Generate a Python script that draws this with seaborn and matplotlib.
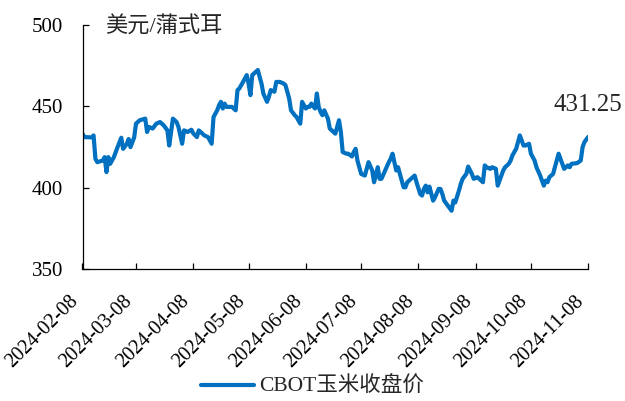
import pandas as pd
import matplotlib
matplotlib.use('Agg')
import matplotlib.pyplot as plt
import matplotlib.dates as mdates
import seaborn as sns

# CBOT玉米收盘价 (美元/蒲式耳)
dates = [
    '2024-02-08', '2024-02-09', '2024-02-13', '2024-02-14', '2024-02-15', '2024-02-16',
    '2024-02-19', '2024-02-20', '2024-02-21', '2024-02-22', '2024-02-23', '2024-02-25',
    '2024-02-27', '2024-02-29', '2024-03-01', '2024-03-03', '2024-03-04', '2024-03-05',
    '2024-03-07', '2024-03-08', '2024-03-10', '2024-03-13', '2024-03-14', '2024-03-15',
    '2024-03-17', '2024-03-19', '2024-03-21', '2024-03-23', '2024-03-25', '2024-03-26',
    '2024-03-28', '2024-03-30', '2024-03-31', '2024-04-02', '2024-04-03', '2024-04-05',
    '2024-04-07', '2024-04-08', '2024-04-10', '2024-04-11', '2024-04-13', '2024-04-14',
    '2024-04-16', '2024-04-18', '2024-04-19', '2024-04-21', '2024-04-22', '2024-04-23',
    '2024-04-24', '2024-04-25', '2024-04-26', '2024-04-29', '2024-05-01', '2024-05-02',
    '2024-05-03', '2024-05-05', '2024-05-07', '2024-05-08', '2024-05-09', '2024-05-10',
    '2024-05-12', '2024-05-13', '2024-05-15', '2024-05-16', '2024-05-18', '2024-05-19',
    '2024-05-20', '2024-05-22', '2024-05-23', '2024-05-25', '2024-05-27', '2024-05-28',
    '2024-05-30', '2024-05-31', '2024-06-02', '2024-06-03', '2024-06-04', '2024-06-05',
    '2024-06-06', '2024-06-08', '2024-06-09', '2024-06-10', '2024-06-11', '2024-06-13',
    '2024-06-14', '2024-06-15', '2024-06-16', '2024-06-17', '2024-06-18', '2024-06-20',
    '2024-06-21', '2024-06-23', '2024-06-24', '2024-06-26', '2024-06-27', '2024-06-28',
    '2024-06-30', '2024-07-01', '2024-07-03', '2024-07-04', '2024-07-05', '2024-07-06',
    '2024-07-08', '2024-07-10', '2024-07-11', '2024-07-12', '2024-07-14', '2024-07-15',
    '2024-07-17', '2024-07-18', '2024-07-19', '2024-07-21', '2024-07-23', '2024-07-24',
    '2024-07-25', '2024-07-27', '2024-07-28', '2024-07-29', '2024-07-31', '2024-08-01',
    '2024-08-02', '2024-08-04', '2024-08-06', '2024-08-07', '2024-08-09', '2024-08-10',
    '2024-08-11', '2024-08-12', '2024-08-13', '2024-08-14', '2024-08-16', '2024-08-17',
    '2024-08-19', '2024-08-20', '2024-08-21', '2024-08-22', '2024-08-24', '2024-08-26',
    '2024-08-27', '2024-08-28', '2024-08-30', '2024-08-31', '2024-09-01', '2024-09-03',
    '2024-09-04', '2024-09-06', '2024-09-07', '2024-09-09', '2024-09-10', '2024-09-12',
    '2024-09-13', '2024-09-14', '2024-09-16', '2024-09-17', '2024-09-19', '2024-09-20',
    '2024-09-21', '2024-09-23', '2024-09-24', '2024-09-26', '2024-09-27', '2024-09-28',
    '2024-09-30', '2024-10-02', '2024-10-04', '2024-10-05', '2024-10-07', '2024-10-08',
    '2024-10-10', '2024-10-11', '2024-10-13', '2024-10-15', '2024-10-16', '2024-10-17',
    '2024-10-18', '2024-10-20', '2024-10-22', '2024-10-23', '2024-10-25', '2024-10-26',
    '2024-10-28', '2024-10-29', '2024-10-30', '2024-11-02', '2024-11-04', '2024-11-05',
    '2024-11-06', '2024-11-08',
]
prices = [
    433.3, 431.2, 431.0, 432.2, 417.9, 415.8,
    416.8, 418.9, 409.7, 418.9, 414.8, 418.9,
    425.0, 430.8, 424.0, 427.0, 430.0, 425.0,
    431.0, 439.4, 441.5, 442.5, 434.3, 437.4,
    436.4, 439.4, 440.4, 438.4, 435.3, 426.0,
    442.5, 440.4, 437.4, 427.1, 435.3, 434.3,
    435.7, 433.5, 431.2, 435.3, 433.3, 432.2,
    431.2, 427.1, 443.5, 447.6, 450.7, 452.8,
    448.7, 451.7, 449.7, 449.7, 447.6, 460.0,
    461.0, 465.0, 469.2, 464.0, 456.9, 469.2,
    471.3, 472.3, 464.0, 457.9, 452.8, 455.9,
    460.0, 459.0, 465.0, 465.0, 464.0, 463.0,
    454.8, 447.6, 444.6, 443.5, 441.5, 439.4,
    452.8, 448.7, 449.7, 449.7, 451.7, 448.7,
    457.9, 449.7, 446.6, 444.6, 447.6, 442.5,
    436.4, 434.3, 433.3, 441.5, 434.3, 422.0,
    421.0, 421.0, 419.3, 422.0, 424.0, 416.8,
    408.6, 407.6, 411.7, 415.8, 410.7, 403.5,
    412.7, 405.6, 405.6, 410.7, 415.8, 417.9,
    421.0, 410.7, 412.7, 408.6, 400.4, 400.4,
    403.5, 405.6, 407.6, 403.5, 396.3, 395.3,
    399.4, 401.4, 397.3, 400.8, 392.2, 394.2,
    399.4, 399.4, 396.3, 392.2, 389.1, 386.0,
    392.2, 391.1, 398.4, 402.5, 405.6, 408.6,
    413.1, 408.6, 405.6, 406.6, 405.6, 403.5,
    413.8, 412.7, 411.7, 412.7, 411.7, 401.4,
    404.5, 410.7, 412.7, 414.8, 416.8, 420.0,
    424.0, 432.2, 426.0, 426.0, 427.1, 421.0,
    416.8, 412.7, 407.6, 401.4, 404.5, 403.5,
    406.6, 408.6, 416.8, 421.0, 414.8, 411.7,
    413.8, 412.7, 414.8, 415.2, 416.8, 425.0,
    428.1, 431.25,
]
tick_dates = ['2024-02-08', '2024-03-08', '2024-04-08', '2024-05-08', '2024-06-08',
              '2024-07-08', '2024-08-08', '2024-09-08', '2024-10-08', '2024-11-08']
y_ticks = [350, 400, 450, 500]
series_name = 'CBOT玉米收盘价'
unit = '美元/蒲式耳'

df = pd.DataFrame({'date': pd.to_datetime(dates), 'price': prices})

sns.set_theme(style='ticks')
plt.rcParams['font.family'] = ['Liberation Serif', 'Noto Sans CJK SC']
plt.rcParams['axes.unicode_minus'] = False

fig = plt.figure(figsize=(6.25, 4.01), dpi=100)
ax = fig.add_axes([0.132, 0.328, 0.809, 0.61])

sns.lineplot(data=df, x='date', y='price', ax=ax, color='#0070C0',
             linewidth=3, label=series_name, legend=False)

ax.set_xlim(pd.Timestamp(tick_dates[0]), pd.Timestamp(tick_dates[-1]))
ax.set_ylim(350, 500)
ax.set_yticks(y_ticks)
ax.set_xticks(pd.to_datetime(tick_dates))
ax.xaxis.set_major_formatter(mdates.DateFormatter('%Y-%m-%d'))
ax.set_xlabel('')
ax.set_ylabel('')

for s in ['top', 'right']:
    ax.spines[s].set_visible(False)
for s in ['left', 'bottom']:
    ax.spines[s].set_color('black')
    ax.spines[s].set_linewidth(0.9)

ax.tick_params(axis='y', direction='in', length=4.5, width=0.9, labelsize=15, pad=14, colors='black')
ax.tick_params(axis='x', direction='in', length=4.5, width=0.9, labelsize=14.5, pad=16, colors='black')
plt.setp(ax.get_xticklabels(), rotation=45, ha='right')

# 单位
ax.text(0.045, 0.99, unit, transform=ax.transAxes, ha='left', va='center', fontsize=16)

# 最新值标注
ax.text(df['date'].iloc[-1], 451, f"{prices[-1]:.2f}", ha='center', va='center',
        fontsize=18, clip_on=False)

handles, labels = ax.get_legend_handles_labels()
fig.legend(handles, labels, loc='center', bbox_to_anchor=(0.5, 0.035), frameon=False,
           fontsize=15.5, handlelength=2.45, handletextpad=0.25, borderpad=0.1)

fig.savefig('out.png', dpi=100)
